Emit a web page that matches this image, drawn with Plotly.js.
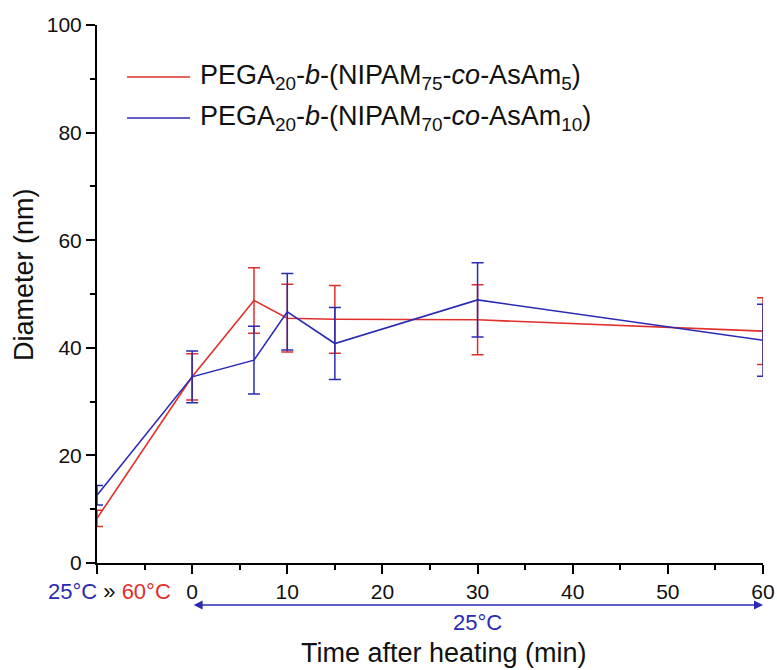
<!DOCTYPE html>
<html>
<head>
<meta charset="utf-8">
<script src="https://cdn.plot.ly/plotly-3.0.1.min.js"></script>
<style>html,body{margin:0;padding:0;background:#fff;}#chart{width:777px;height:670px;}</style>
</head>
<body>
<div id="chart"></div>
<script>
// Data
const timeMin = [-10, 0, 6.5, 10, 15, 30, 60];
const seriesNames = [
  'PEGA<sub>20</sub>-<i>b</i>-(NIPAM<sub>75</sub>-<i>co</i>-AsAm<sub>5</sub>)',
  'PEGA<sub>20</sub>-<i>b</i>-(NIPAM<sub>70</sub>-<i>co</i>-AsAm<sub>10</sub>)'
];
const redDiameter = [8.3, 34.6, 48.8, 45.5, 45.3, 45.2, 43.1];
const redError    = [1.5, 4.3, 6.1, 6.3, 6.3, 6.5, 6.2];
const blueDiameter = [12.6, 34.6, 37.7, 46.7, 40.8, 48.9, 41.4];
const blueError    = [1.8, 4.8, 6.3, 7.1, 6.7, 6.9, 6.7];
const xTickVals = [-10, 0, 10, 20, 30, 40, 50, 60];
const xTickText = ['', '0', '10', '20', '30', '40', '50', '60'];

const RED = '#e0302c', BLUE = '#2a2ab4';
const FONT = 'Arial, "Liberation Sans", sans-serif';

const traces = [
  {x: timeMin, y: redDiameter, type: 'scatter', mode: 'lines', name: seriesNames[0],
   line: {color: RED, width: 1.6}, cliponaxis: false,
   error_y: {type: 'data', array: redError, visible: true, color: RED, thickness: 1.5, width: 6}},
  {x: timeMin, y: blueDiameter, type: 'scatter', mode: 'lines', name: seriesNames[1],
   line: {color: BLUE, width: 1.6}, cliponaxis: false,
   error_y: {type: 'data', array: blueError, visible: true, color: BLUE, thickness: 1.5, width: 6}}
];

const W = 666, H = 538, L = 97, T = 25;
const px = v => (v - L) / W;
const py = v => (T + H - v) / H;

const layout = {
  width: 777, height: 670,
  margin: {l: L, r: 14, t: T, b: 107},
  paper_bgcolor: '#fff', plot_bgcolor: '#fff',
  showlegend: false,
  font: {family: FONT, color: '#111'},
  xaxis: {
    range: [-10, 60], tickvals: xTickVals, ticktext: xTickText,
    showline: true, linecolor: '#000', linewidth: 2, mirror: false,
    ticks: 'outside', ticklen: 9, tickwidth: 2, tickcolor: '#000',
    minor: {dtick: 5, tick0: 0, ticks: 'outside', ticklen: 5, tickwidth: 2, tickcolor: '#000'},
    showgrid: false, zeroline: false,
    tickfont: {size: 21, family: FONT, color: '#111'}
  },
  yaxis: {
    range: [0, 100], dtick: 20, tick0: 0,
    showline: true, linecolor: '#000', linewidth: 2,
    ticks: 'outside', ticklen: 9, tickwidth: 2, tickcolor: '#000',
    minor: {dtick: 10, ticks: 'outside', ticklen: 5, tickwidth: 2, tickcolor: '#000'},
    showgrid: false, zeroline: false,
    tickfont: {size: 21, family: FONT, color: '#111'}
  },
  shapes: [
    {type: 'line', xref: 'paper', yref: 'paper', x0: px(127), x1: px(190), y0: py(77), y1: py(77),
     line: {color: RED, width: 1.6}},
    {type: 'line', xref: 'paper', yref: 'paper', x0: px(127), x1: px(190), y0: py(118), y1: py(118),
     line: {color: BLUE, width: 1.6}}
  ],
  annotations: [
    {xref: 'paper', yref: 'paper', x: px(198), y: py(77), xanchor: 'left', yanchor: 'middle',
     text: seriesNames[0], showarrow: false, font: {size: 27, family: FONT, color: '#111'}},
    {xref: 'paper', yref: 'paper', x: px(198), y: py(118), xanchor: 'left', yanchor: 'middle',
     text: seriesNames[1], showarrow: false, font: {size: 27, family: FONT, color: '#111'}},
    {xref: 'paper', yref: 'paper', x: px(46), y: py(591), xanchor: 'left', yanchor: 'middle',
     text: '<span style="color:' + BLUE + '">25°C</span> » <span style="color:' + RED + '">60°C</span>',
     showarrow: false, font: {size: 22, family: FONT, color: '#111'}},
    {xref: 'x', yref: 'paper', x: 60, y: py(605), axref: 'x', ax: 0, ayref: 'pixel', ay: 0,
     text: '', showarrow: true, arrowside: 'end+start', arrowhead: 2, arrowsize: 1.2,
     arrowwidth: 1.5, arrowcolor: BLUE, standoff: 0, startstandoff: 0},
    {xref: 'x', yref: 'paper', x: 30, y: py(622), xanchor: 'center', yanchor: 'middle',
     text: '25°C', showarrow: false, font: {size: 22, family: FONT, color: BLUE}},
    {xref: 'paper', yref: 'paper', x: px(444), y: py(653), xanchor: 'center', yanchor: 'middle',
     text: 'Time after heating (min)', showarrow: false, font: {size: 27, family: FONT, color: '#111'}},
    {xref: 'paper', yref: 'paper', x: px(24), y: py(275), xanchor: 'center', yanchor: 'middle',
     text: 'Diameter (nm)', textangle: -90, showarrow: false, font: {size: 27, family: FONT, color: '#111'}}
  ]
};

Plotly.newPlot('chart', traces, layout, {displayModeBar: false, staticPlot: true});
</script>
</body>
</html>
